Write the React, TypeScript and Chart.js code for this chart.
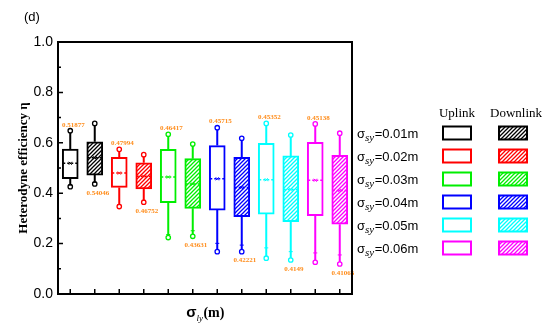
import { useEffect, useRef } from "react";
import { Chart, registerables } from "chart.js";

Chart.register(...registerables);

// ---- data ----
const categories = [
  "0.01m Uplink", "0.01m Downlink",
  "0.02m Uplink", "0.02m Downlink",
  "0.03m Uplink", "0.03m Downlink",
  "0.04m Uplink", "0.04m Downlink",
  "0.05m Uplink", "0.05m Downlink",
  "0.06m Uplink", "0.06m Downlink",
];
const whiskerHigh = [0.648, 0.677, 0.574, 0.553, 0.634, 0.595, 0.66, 0.618, 0.677, 0.631, 0.675, 0.638];
const q3 = [0.575, 0.604, 0.542, 0.521, 0.574, 0.537, 0.589, 0.542, 0.598, 0.548, 0.602, 0.55];
const means = [0.51877, 0.54046, 0.47994, 0.46752, 0.46417, 0.43631, 0.45715, 0.42221, 0.45352, 0.4149, 0.45138, 0.41066];
const q1 = [0.458, 0.472, 0.423, 0.417, 0.362, 0.34, 0.333, 0.307, 0.317, 0.287, 0.311, 0.277];
const whiskerLow = [0.426, 0.437, 0.347, 0.364, 0.224, 0.229, 0.168, 0.168, 0.142, 0.135, 0.126, 0.119];
const lowPercentile = [0.432, 0.443, 0.355, 0.372, 0.236, 0.251, 0.201, 0.194, 0.183, 0.168, 0.163, 0.155];
const sigmaLabels = ["0.01", "0.02", "0.03", "0.04", "0.05", "0.06"];
const yTicks = [0, 0.2, 0.4, 0.6, 0.8, 1.0];

// ---- styles ----
const seriesColors = ["#000000", "#ff0000", "#00ee00", "#0000ff", "#00ffff", "#ff00ff"];
const labelColor = "#ff8c1a";

function makeHatch(color: string): CanvasPattern | string {
  const c = document.createElement("canvas");
  c.width = 4;
  c.height = 4;
  const g = c.getContext("2d");
  if (!g) return "#fff";
  g.fillStyle = "#fff";
  g.fillRect(0, 0, 4, 4);
  g.strokeStyle = color;
  g.lineWidth = 1.3;
  g.beginPath();
  g.moveTo(0, 4);
  g.lineTo(4, 0);
  g.moveTo(-1, 1);
  g.lineTo(1, -1);
  g.moveTo(3, 5);
  g.lineTo(5, 3);
  g.stroke();
  const p = g.createPattern(c, "repeat");
  return p || "#fff";
}

export default function App() {
  const ref = useRef<HTMLCanvasElement | null>(null);

  useEffect(() => {
    if (!ref.current) return;
    const boxColors = categories.map((_, i) => seriesColors[Math.floor(i / 2)]);
    const hatches = seriesColors.map((c) => makeHatch(c));
    const fills = categories.map((_, i) => (i % 2 === 0 ? "#ffffff" : hatches[Math.floor(i / 2)]));

    const drawPlugin = {
      id: "boxExtras",
      beforeDatasetsDraw(chart: any) {
        const ctx = chart.ctx as CanvasRenderingContext2D;
        const x = chart.scales.x;
        const y = chart.scales.y;
        ctx.save();
        categories.forEach((_, i) => {
          const cx = x.getPixelForValue(i);
          ctx.strokeStyle = boxColors[i];
          ctx.lineWidth = 2;
          ctx.beginPath();
          ctx.moveTo(cx, y.getPixelForValue(q3[i]));
          ctx.lineTo(cx, y.getPixelForValue(whiskerHigh[i]));
          ctx.moveTo(cx, y.getPixelForValue(q1[i]));
          ctx.lineTo(cx, y.getPixelForValue(whiskerLow[i]));
          ctx.stroke();
        });
        ctx.restore();
      },
      afterDatasetsDraw(chart: any) {
        const ctx = chart.ctx as CanvasRenderingContext2D;
        const x = chart.scales.x;
        const y = chart.scales.y;
        const area = chart.chartArea;
        ctx.save();
        categories.forEach((_, i) => {
          const cx = x.getPixelForValue(i);
          const col = boxColors[i];
          // end circles
          ctx.lineWidth = 1.3;
          ctx.strokeStyle = col;
          ctx.fillStyle = "#fff";
          [whiskerHigh[i], whiskerLow[i]].forEach((v) => {
            ctx.beginPath();
            ctx.arc(cx, y.getPixelForValue(v), 2.2, 0, Math.PI * 2);
            ctx.fill();
            ctx.stroke();
          });
          // percentile plus
          const py = y.getPixelForValue(lowPercentile[i]);
          ctx.lineWidth = 1;
          ctx.beginPath();
          ctx.moveTo(cx - 2, py);
          ctx.lineTo(cx + 2, py);
          ctx.stroke();
          // mean dashed line
          const my = y.getPixelForValue(means[i]);
          ctx.lineWidth = 1.5;
          ctx.setLineDash([2, 2]);
          ctx.beginPath();
          ctx.moveTo(cx - 7, my);
          ctx.lineTo(cx + 7, my);
          ctx.stroke();
          ctx.setLineDash([]);
          ctx.lineWidth = 1;
          ctx.beginPath();
          ctx.moveTo(cx - 1.5, my - 1.5);
          ctx.lineTo(cx - 1.5 + 3, my - 1.5 + 3);
          ctx.moveTo(cx + 1.5, my - 1.5);
          ctx.lineTo(cx - 1.5, my + 1.5);
          ctx.stroke();
          // labels
          ctx.fillStyle = labelColor;
          ctx.font = "bold 7px 'Liberation Serif', serif";
          ctx.textAlign = "center";
          ctx.textBaseline = "middle";
          if (i % 2 === 0) {
            ctx.fillText(String(means[i]), cx + 3, y.getPixelForValue(whiskerHigh[i]) - 6);
          } else {
            ctx.fillText(String(means[i]), cx + 3, y.getPixelForValue(whiskerLow[i]) + 9);
          }
        });

        // frame
        ctx.strokeStyle = "#000";
        ctx.lineWidth = 2;
        ctx.strokeRect(area.left, area.top, area.right - area.left, area.bottom - area.top);
        // bottom ticks (inward)
        ctx.lineWidth = 1.5;
        ctx.beginPath();
        categories.forEach((_, i) => {
          const cx = x.getPixelForValue(i);
          ctx.moveTo(cx, area.bottom);
          ctx.lineTo(cx, area.bottom - 5);
        });
        // y ticks inward, major + minor
        for (let k = 0; k <= 10; k++) {
          const v = k / 10;
          const py = y.getPixelForValue(v);
          const len = k % 2 === 0 ? 5 : 3;
          ctx.moveTo(area.left, py);
          ctx.lineTo(area.left + len, py);
        }
        ctx.stroke();

        // (d)
        ctx.fillStyle = "#000";
        ctx.textAlign = "left";
        ctx.textBaseline = "alphabetic";
        ctx.font = "13px 'Liberation Sans', Arial, sans-serif";
        ctx.fillText("(d)", 24, 21);

        // y title
        ctx.save();
        ctx.translate(24, 168);
        ctx.rotate(-Math.PI / 2);
        ctx.textAlign = "center";
        ctx.textBaseline = "middle";
        ctx.font = "bold 13px 'Liberation Serif', serif";
        ctx.fillText("Heterodyne efficiency η", 0, 0);
        ctx.restore();

        // x title
        const midX = (area.left + area.right) / 2;
        ctx.textAlign = "left";
        ctx.textBaseline = "alphabetic";
        ctx.font = "bold 15px 'Liberation Sans', Arial, sans-serif";
        const w1 = ctx.measureText("σ").width;
        ctx.font = "italic 9px 'Liberation Serif', serif";
        const w2 = ctx.measureText("ly").width;
        ctx.font = "bold 14px 'Liberation Serif', serif";
        const w3 = ctx.measureText("(m)").width;
        let tx = midX - (w1 + w2 + w3) / 2;
        ctx.font = "bold 15px 'Liberation Sans', Arial, sans-serif";
        ctx.fillText("σ", tx, 317);
        tx += w1;
        ctx.font = "italic 9px 'Liberation Serif', serif";
        ctx.fillText("ly", tx, 321);
        tx += w2 + 0.5;
        ctx.font = "bold 14px 'Liberation Serif', serif";
        ctx.fillText("(m)", tx, 317);

        // legend
        ctx.font = "13px 'Liberation Serif', serif";
        ctx.textAlign = "center";
        ctx.textBaseline = "middle";
        ctx.fillText("Uplink", 457, 114);
        ctx.fillText("Downlink", 516, 114);
        sigmaLabels.forEach((lab, k) => {
          const ry = 133 + 23 * k;
          ctx.textAlign = "left";
          ctx.textBaseline = "alphabetic";
          ctx.fillStyle = "#000";
          let lx = 357;
          ctx.font = "13px 'Liberation Sans', Arial, sans-serif";
          ctx.fillText("σ", lx, ry + 4.5);
          lx += ctx.measureText("σ").width;
          ctx.font = "italic 11px 'Liberation Serif', serif";
          ctx.fillText("sy", lx, ry + 8);
          lx += ctx.measureText("sy").width + 0.5;
          ctx.font = "13px 'Liberation Sans', Arial, sans-serif";
          ctx.fillText("=" + lab + "m", lx, ry + 4.5);
          const col = seriesColors[k];
          ctx.lineWidth = 2;
          ctx.strokeStyle = col;
          ctx.fillStyle = "#fff";
          ctx.fillRect(443, ry - 6.5, 28, 13);
          ctx.strokeRect(443, ry - 6.5, 28, 13);
          ctx.fillStyle = hatches[k] as any;
          ctx.fillRect(499, ry - 6.5, 28, 13);
          ctx.strokeRect(499, ry - 6.5, 28, 13);
        });
        ctx.restore();
      },
    };

    const chart = new Chart(ref.current, {
      type: "bar",
      data: {
        labels: categories,
        datasets: [
          {
            data: categories.map((_, i) => [q1[i], q3[i]]) as any,
            backgroundColor: fills as any,
            borderColor: boxColors,
            borderWidth: 2,
            borderSkipped: false,
            barThickness: 16,
          },
        ],
      },
      options: {
        responsive: false,
        animation: false,
        events: [],
        layout: { padding: { left: 0, top: 42, right: 198, bottom: 0 } },
        plugins: { legend: { display: false }, tooltip: { enabled: false }, title: { display: false } },
        scales: {
          x: {
            ticks: { display: false },
            grid: { display: false, drawTicks: false },
            border: { display: false },
            afterFit: (s: any) => {
              s.height = 37;
            },
          },
          y: {
            min: 0,
            max: 1,
            afterBuildTicks: (s: any) => {
              s.ticks = yTicks.map((v) => ({ value: v }));
            },
            ticks: {
              callback: (v: any) => Number(v).toFixed(1),
              color: "#000",
              padding: 5,
              font: { size: 14, family: "'Liberation Sans', Arial, sans-serif" },
            },
            grid: { display: false, drawTicks: false },
            border: { display: false },
            afterFit: (s: any) => {
              s.width = 58;
            },
          },
        },
      },
      plugins: [drawPlugin],
    });
    return () => chart.destroy();
  }, []);

  return (
    <div style={{ position: "fixed", left: 0, top: 0, width: 550, height: 331, background: "#fff" }}>
      <canvas ref={ref} width={550} height={331} style={{ width: 550, height: 331 }} />
    </div>
  );
}
